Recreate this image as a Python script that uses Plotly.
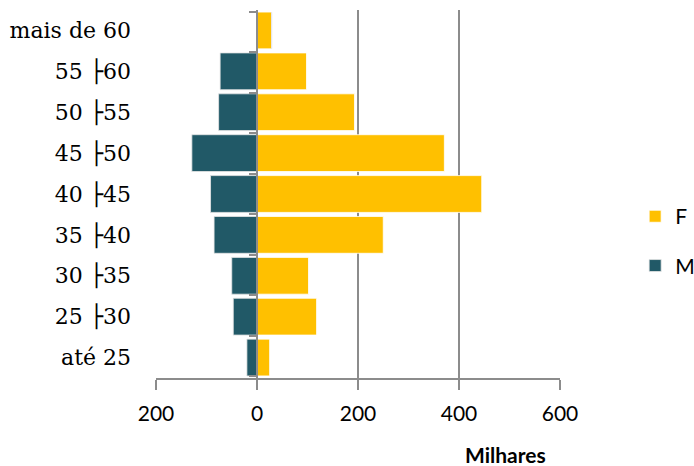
import plotly.graph_objects as go

categories = ["até 25", "25 ├30", "30 ├35", "35 ├40", "40 ├45",
              "45 ├50", "50 ├55", "55 ├60", "mais de 60"]
female = [25, 118, 102, 250, 445, 371, 193, 98, 29]
male = [20, 47, 50, 85, 92, 129, 76, 73, 0]
tick_vals = [-200, 0, 200, 400, 600]
tick_text = ["200", "0", "200", "400", "600"]

F_COLOR = "#FFC000"
M_COLOR = "#215967"
GRID = "#8c8c8c"

fig = go.Figure()
fig.add_trace(go.Bar(
    y=categories, x=female, orientation="h", name="F",
    marker=dict(color=F_COLOR, line=dict(color="#ffffff", width=0.8)),
    legendgroup="F",
))
fig.add_trace(go.Bar(
    y=categories, x=[-v for v in male], orientation="h", name="M",
    marker=dict(color=M_COLOR, line=dict(color="#e6e6e6", width=0.8)),
    legendgroup="M",
))
# helper trace so the category axis at x=0 is drawn
fig.add_trace(go.Scatter(
    y=categories, x=[0] * len(categories), yaxis="y2", mode="markers",
    marker=dict(opacity=0), showlegend=False, hoverinfo="skip",
))

fig.update_layout(
    width=694, height=466,
    margin=dict(l=156, r=134, t=10, b=88, autoexpand=False),
    paper_bgcolor="white", plot_bgcolor="white",
    barmode="relative", bargap=0.1,
    xaxis=dict(
        range=[-200, 600], tickvals=tick_vals, ticktext=tick_text,
        showgrid=True, gridcolor=GRID, gridwidth=1.5,
        zeroline=False, automargin=False,
        showline=True, linecolor=GRID, linewidth=1.5,
        ticks="outside", ticklen=10, tickcolor=GRID, tickwidth=1.5,
        ticklabelstandoff=6,
        tickfont=dict(family="Lato", size=21, color="#000000"),
    ),
    yaxis=dict(
        type="category", categoryorder="array", categoryarray=categories,
        showgrid=False, zeroline=False, showline=False, ticks="",
        ticklabelstandoff=24, automargin=False,
        tickfont=dict(family="DejaVu Serif", size=22, color="#000000"),
    ),
    yaxis2=dict(
        type="category", categoryorder="array", categoryarray=categories,
        overlaying="y", anchor="free", position=0.25, side="left",
        showgrid=False, zeroline=False, automargin=False,
        showline=True, linecolor=GRID, linewidth=2,
        ticks="outside", tickson="boundaries", ticklen=7,
        tickcolor=GRID, tickwidth=1.5, showticklabels=False,
    ),
    legend=dict(
        x=1.186, y=0.372, xanchor="left", yanchor="middle",
        traceorder="grouped", tracegroupgap=19,
        font=dict(family="Lato", size=21, color="#000000"),
        itemwidth=30,
    ),
    annotations=[dict(
        text="<b>Milhares</b>", xref="paper", yref="paper",
        x=0.864, y=-0.209, xanchor="center", yanchor="middle",
        showarrow=False, font=dict(family="Lato", size=21, color="#000000"),
    )],
)

fig.write_html("out.html", config={"displayModeBar": False},
               post_script="document.body.style.margin='0';")
